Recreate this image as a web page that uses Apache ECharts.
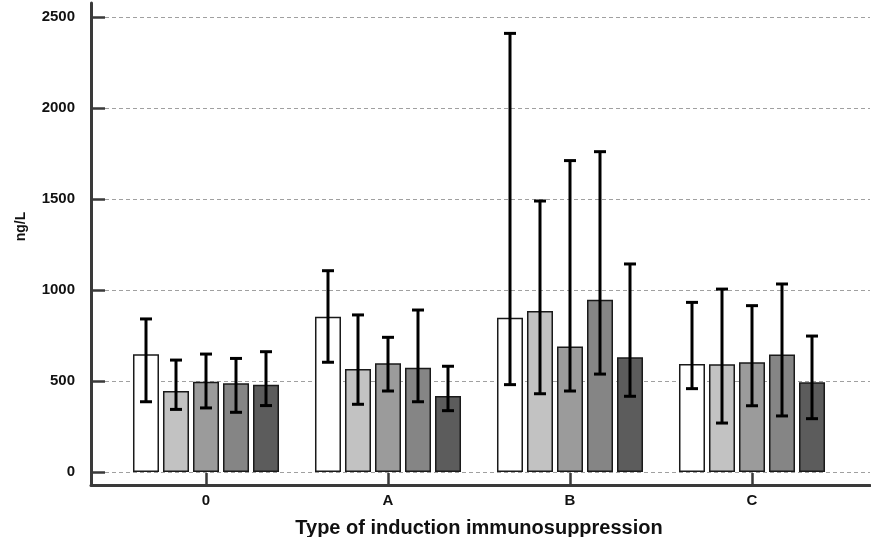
<!DOCTYPE html>
<html>
<head>
<meta charset="utf-8">
<title>ng/L by type of induction immunosuppression</title>
<script src="https://cdn.jsdelivr.net/npm/echarts@6/dist/echarts.min.js"></script>
<style>
  html, body { margin: 0; padding: 0; background: #ffffff; }
  #chart { width: 871px; height: 537px; }
</style>
</head>
<body>
<div id="chart"></div>
<script>
// Induction categories on the x axis
const categories = ['0', 'A', 'B', 'C'];

// Y axis range and step
const yMin = 0;
const yMax = 2500;
const yStep = 500;

// Mean value and error range (lower / upper) for each of the five groups
const mean1 = [647, 853, 848, 593];
const lower1 = [386, 603, 480, 458];
const upper1 = [841, 1106, 2410, 932];

const mean2 = [445, 566, 885, 592];
const lower2 = [344, 372, 430, 269];
const upper2 = [615, 863, 1489, 1005];

const mean3 = [496, 597, 690, 603];
const lower3 = [352, 445, 445, 364];
const upper3 = [648, 740, 1711, 914];

const mean4 = [487, 573, 947, 645];
const lower4 = [328, 386, 538, 308];
const upper4 = [624, 890, 1760, 1033];

const mean5 = [480, 418, 630, 493];
const lower5 = [365, 337, 416, 293];
const upper5 = [661, 581, 1143, 747];

const groups = [
  { mean: mean1, lower: lower1, upper: upper1, color: '#ffffff' },
  { mean: mean2, lower: lower2, upper: upper2, color: '#c2c2c2' },
  { mean: mean3, lower: lower3, upper: upper3, color: '#9b9b9b' },
  { mean: mean4, lower: lower4, upper: upper4, color: '#858585' },
  { mean: mean5, lower: lower5, upper: upper5, color: '#5c5c5c' }
];

// Bar layout
const BAR_W = 26;
const BAR_GAP_PX = 4;
const PITCH = BAR_W + BAR_GAP_PX;
const CAP_HALF = 6;

const axisColor = '#3a3a3a';
const fontFamily = '"Liberation Sans", Arial, sans-serif';

function errorBarRenderer(slot, count) {
  return function (params, api) {
    const cat = api.value(0);
    const lo = api.coord([cat, api.value(1)]);
    const hi = api.coord([cat, api.value(2)]);
    const x = lo[0] + (slot - (count - 1) / 2) * PITCH;
    const style = { stroke: '#000000', lineWidth: 3 };
    return {
      type: 'group',
      children: [
        { type: 'line', shape: { x1: x, y1: hi[1], x2: x, y2: lo[1] }, style: style },
        { type: 'line', shape: { x1: x - CAP_HALF, y1: hi[1], x2: x + CAP_HALF, y2: hi[1] }, style: style },
        { type: 'line', shape: { x1: x - CAP_HALF, y1: lo[1], x2: x + CAP_HALF, y2: lo[1] }, style: style }
      ]
    };
  };
}

const series = [];
groups.forEach(function (g, k) {
  series.push({
    type: 'bar',
    name: 'Group ' + (k + 1),
    xAxisIndex: 1,
    yAxisIndex: 1,
    data: g.mean,
    barWidth: BAR_W,
    barGap: (BAR_GAP_PX / BAR_W * 100).toFixed(1) + '%',
    itemStyle: { color: g.color, borderColor: '#1a1a1a', borderWidth: 1.5 },
    z: 2
  });
});
groups.forEach(function (g, k) {
  series.push({
    type: 'custom',
    name: 'Group ' + (k + 1) + ' range',
    xAxisIndex: 1,
    yAxisIndex: 1,
    data: categories.map(function (c, i) { return [i, g.lower[i], g.upper[i]]; }),
    renderItem: errorBarRenderer(k, groups.length),
    z: 5
  });
});

const hiddenAxisParts = {
  axisTick: { show: false },
  axisLabel: { show: false },
  splitLine: { show: false }
};

const chart = echarts.init(document.getElementById('chart'), null, { renderer: 'canvas' });
chart.setOption({
  animation: false,
  backgroundColor: '#ffffff',
  textStyle: { fontFamily: fontFamily },
  grid: [
    // value scale, grid lines and tick labels
    { left: 91, right: 1, top: 17, bottom: 65, containLabel: false, outerBoundsMode: 'none' },
    // bars and category labels
    { left: 115, right: 28, top: 17, bottom: 65, containLabel: false, outerBoundsMode: 'none' },
    // frame: the two axis lines meeting at the lower left corner
    { left: 91, right: 1, top: 3, bottom: 52, containLabel: false, outerBoundsMode: 'none' }
  ],
  xAxis: [
    Object.assign({
      type: 'value', gridIndex: 0, min: 0, max: 1,
      axisLine: { show: false }
    }, hiddenAxisParts),
    {
      type: 'category',
      gridIndex: 1,
      data: categories,
      offset: 13,
      axisLine: { show: false, onZero: false },
      axisTick: { show: true, inside: true, length: 12, alignWithLabel: true, lineStyle: { color: axisColor, width: 2.5 } },
      axisLabel: { margin: 8, color: '#111111', fontSize: 15, fontWeight: 'bold', fontFamily: fontFamily },
      name: 'Type of induction immunosuppression',
      nameLocation: 'middle',
      nameGap: 33,
      nameTextStyle: { color: '#111111', fontSize: 20, fontWeight: 'bold', fontFamily: fontFamily }
    },
    Object.assign({
      type: 'value', gridIndex: 2, min: 0, max: 1,
      axisLine: { show: true, onZero: false, lineStyle: { color: axisColor, width: 3 } }
    }, hiddenAxisParts)
  ],
  yAxis: [
    {
      type: 'value',
      gridIndex: 0,
      min: yMin,
      max: yMax,
      interval: yStep,
      axisLine: { show: false },
      axisTick: { show: true, inside: true, length: 14, lineStyle: { color: axisColor, width: 2.5 } },
      axisLabel: {
        margin: 16, color: '#111111', fontSize: 15, fontWeight: 'bold', fontFamily: fontFamily,
        formatter: function (v) { return String(v); }
      },
      splitLine: { show: true, lineStyle: { color: '#a0a0a0', width: 1, type: [4, 3] } },
      name: 'ng/L',
      nameLocation: 'middle',
      nameRotate: 90,
      nameGap: 63,
      nameTextStyle: { color: '#111111', fontSize: 14, fontWeight: 'bold', fontFamily: fontFamily, padding: [0, 0, 0, 36] }
    },
    {
      type: 'value',
      gridIndex: 1,
      min: yMin,
      max: yMax,
      interval: yStep,
      show: false,
      splitLine: { show: false }
    },
    Object.assign({
      type: 'value', gridIndex: 2, min: 0, max: 1,
      axisLine: { show: true, onZero: false, lineStyle: { color: axisColor, width: 3 } }
    }, hiddenAxisParts)
  ],
  series: series
});
</script>
</body>
</html>
